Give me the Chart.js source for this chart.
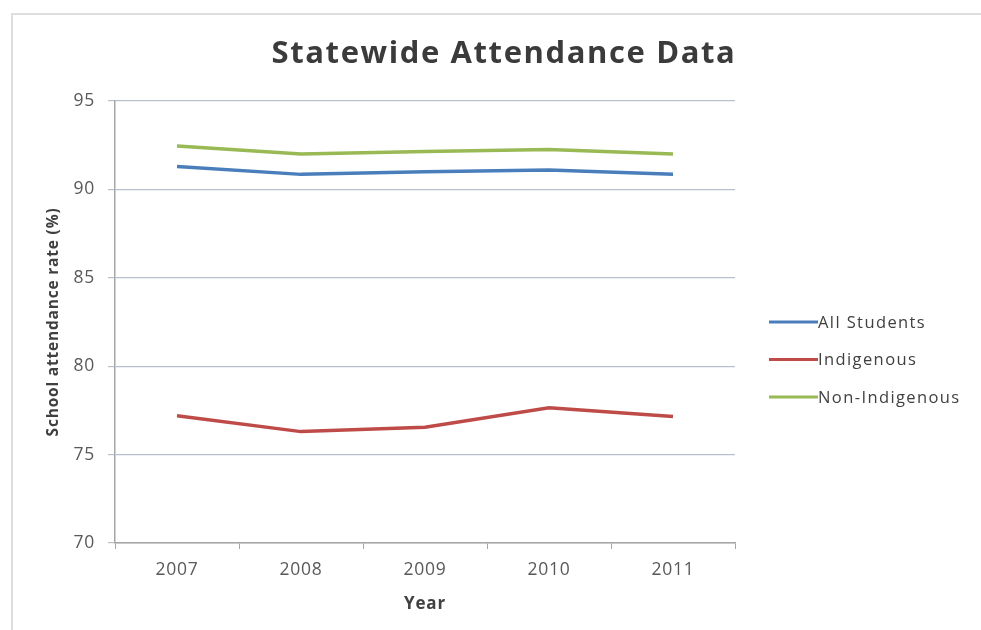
<!DOCTYPE html>
<html>
<head>
<meta charset="utf-8">
<script src="https://cdn.jsdelivr.net/npm/chart.js@4/dist/chart.umd.min.js"></script>
<style>
  html, body { margin: 0; padding: 0; background: #fff; }
  #wrap { width: 981px; height: 630px; }
</style>
</head>
<body>
<div id="wrap"><canvas id="myChart" width="981" height="630"></canvas></div>
<script>
//Data
let years = ["2007", "2008", "2009", "2010", "2011"];
let allStudents = [91.3, 90.85, 91.0, 91.1, 90.85];
let indigenous = [77.2, 76.3, 76.55, 77.65, 77.15];
let nonIndigenous = [92.45, 92.0, 92.15, 92.25, 92.0];
let seriesNames = ["All Students", "Indigenous", "Non-Indigenous"];
let seriesColors = ["#4a7ebb", "#be4b48", "#98b954"];
let yTicks = [70, 75, 80, 85, 90, 95];

let fontFam = "'Open Sans', Lato, sans-serif";
let gridCol = "#b9bfcc";
let labelCol = "#595959";

// title, legend and frame drawn by hand so they sit where the original does
let extras = {
  id: 'extras',
  beforeDraw: function(chart) {
    let c = chart.ctx;
    c.save();
    c.fillStyle = "#fff";
    c.fillRect(0, 0, chart.width, chart.height);
    c.strokeStyle = "#dedede";
    c.lineWidth = 2;
    c.beginPath();
    c.moveTo(12, chart.height);
    c.lineTo(12, 14);
    c.lineTo(chart.width, 14);
    c.stroke();
    c.restore();
    // the original text is a bit stretched sideways
    if ('letterSpacing' in c) c.letterSpacing = "0.8px";
  },
  afterDraw: function(chart) {
    let c = chart.ctx;
    c.save();
    c.fillStyle = "#3b3b3b";
    c.font = "bold 31px " + fontFam;
    c.textAlign = "center";
    c.textBaseline = "middle";
    if ('letterSpacing' in c) c.letterSpacing = "1.6px";
    c.fillText("Statewide Attendance Data", 504, 54);

    c.font = "16.5px " + fontFam;
    c.textAlign = "left";
    if ('letterSpacing' in c) c.letterSpacing = "1.4px";
    chart.data.datasets.forEach(function(ds, i) {
      let y = 322 + i * 37.5;
      c.strokeStyle = ds.borderColor;
      c.lineWidth = 3;
      c.beginPath();
      c.moveTo(769, y);
      c.lineTo(818, y);
      c.stroke();
      c.fillStyle = "#404040";
      c.fillText(ds.label, 818, y + 1);
    });
    c.restore();
  }
};

let ds = [allStudents, indigenous, nonIndigenous].map(function(vals, i) {
  return {
    label: seriesNames[i],
    data: vals,
    borderColor: seriesColors[i],
    backgroundColor: seriesColors[i],
    borderWidth: 3.5,
    pointRadius: 0,
    tension: 0,
    fill: false
  };
});

let ctx = document.getElementById("myChart");
let myLineChart = new Chart(ctx, {
  type: 'line',
  data: { labels: years, datasets: ds },
  plugins: [extras],
  options: {
    responsive: false,
    animation: false,
    layout: { padding: { left: 15, right: 246, top: 101, bottom: 5 } },
    plugins: {
      legend: { display: false },
      title: { display: false },
      tooltip: { enabled: false }
    },
    scales: {
      x: {
        offset: true,
        grid: {
          display: true,
          offset: true,
          drawOnChartArea: false,
          drawTicks: true,
          tickLength: 6,
          color: "#a6a6a6"
        },
        border: { color: "#a6a6a6", width: 1.5 },
        ticks: {
          color: labelCol,
          font: { family: fontFam, size: 17.5 },
          padding: 11
        },
        title: {
          display: true,
          text: "Year",
          color: "#404040",
          font: { family: fontFam, size: 17, weight: 'bold' },
          padding: { top: 0, bottom: 11 }
        },
        afterFit: function(scale) { scale.height = 82; }
      },
      y: {
        min: 70,
        max: 95,
        afterBuildTicks: function(scale) {
          scale.ticks = yTicks.map(function(v) { return { value: v }; });
        },
        grid: {
          color: gridCol,
          lineWidth: 1.2,
          tickLength: 7
        },
        border: { color: "#a6a6a6", width: 1.5 },
        ticks: {
          color: labelCol,
          font: { family: fontFam, size: 17.5 },
          padding: 13
        },
        title: {
          display: true,
          text: "School attendance rate (%)",
          color: "#404040",
          font: { family: fontFam, size: 15.5, weight: 'bold' },
          padding: { top: 29, bottom: 0 }
        },
        afterFit: function(scale) { scale.width = 100; }
      }
    }
  }
});
</script>
</body>
</html>
